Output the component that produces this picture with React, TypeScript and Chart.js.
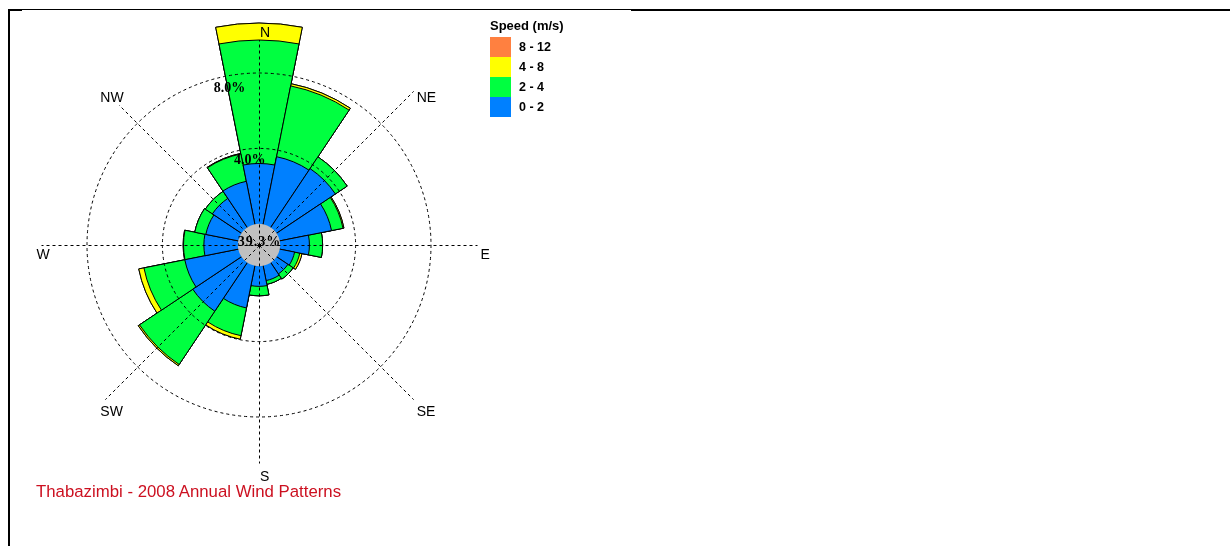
import React, { useEffect, useRef } from 'react';
import { Chart, registerables } from 'chart.js';

Chart.register(...registerables);

// ---- data (percent of time, per direction and speed class) ----
const directions = ['N', 'NNE', 'NE', 'ENE', 'E', 'ESE', 'SE', 'SSE', 'S', 'SSW', 'SW', 'WSW', 'W', 'WNW', 'NW', 'NNW'];
const speed0to2 = [3.2, 3.65, 3.75, 2.8, 1.55, 0.8, 0.72, 0.8, 1.07, 2.28, 3.1, 2.89, 1.8, 1.75, 1.85, 2.32];
const speed2to4 = [6.55, 3.83, 0.75, 0.62, 0.7, 0.28, 0.33, 0.2, 0.5, 1.5, 3.4, 2.21, 1.08, 0.6, 0.45, 1.48];
const speed4to8 = [0.9, 0.12, 0, 0.05, 0, 0.12, 0, 0, 0, 0.19, 0.08, 0.28, 0.02, 0, 0, 0.03];
const speed8to12 = [0, 0, 0, 0, 0, 0, 0, 0, 0, 0, 0, 0, 0, 0, 0, 0];
const calmPercent = 39.3;
const ringTicks = [4, 8];
const compassLabels = ['N', 'NE', 'E', 'SE', 'S', 'SW', 'W', 'NW'];
const speedBinLabels = ['0 - 2', '2 - 4', '4 - 8', '8 - 12'];
const legendTitle = 'Speed (m/s)';
const chartTitle = 'Thabazimbi - 2008 Annual Wind Patterns';

// ---- styles ----
const binColors = ['#0080FF', '#00FF40', '#FFFF00', '#FF8040'];
const CANVAS = 500;
const CALM_RADIUS_PX = 21.2;
const PX_PER_PERCENT = 18.85;
const SPOKE_PX = 218;

const bins = [speed0to2, speed2to4, speed4to8, speed8to12];
const cumulative = bins.map((_, b) =>
  directions.map((__, i) => bins.slice(0, b + 1).reduce((sum, arr) => sum + arr[i], 0))
);

const scaleMin = -CALM_RADIUS_PX / PX_PER_PERCENT;
const scaleMax = scaleMin + CANVAS / 2 / PX_PER_PERCENT;

const windRoseDecor = {
  id: 'windRoseDecor',
  afterDatasetsDraw(chart: any) {
    const s = chart.scales.r;
    const ctx = chart.ctx;
    const r0 = s.getDistanceFromCenterForValue(0);
    ctx.save();
    ctx.beginPath();
    ctx.arc(s.xCenter, s.yCenter, r0, 0, Math.PI * 2);
    ctx.fillStyle = '#C0C0C0';
    ctx.fill();
    ctx.restore();
  },
  afterDraw(chart: any) {
    const s = chart.scales.r;
    const ctx = chart.ctx;
    const half = Math.PI / directions.length;
    const cx = s.xCenter;
    const cy = s.yCenter;
    ctx.save();
    ctx.font = '14px "Liberation Sans", Arial, sans-serif';
    ctx.textAlign = 'left';
    ctx.textBaseline = 'alphabetic';
    const labelInfo = compassLabels.map((lab, k) => {
      const end = s.getPointPosition(k * 2, SPOKE_PX, half);
      const th = (k * 45 * Math.PI) / 180;
      const sn = Math.sin(th);
      const cs = Math.cos(th);
      const dx = sn > 0.1 ? 3.5 : sn < -0.1 ? -4.5 : 1;
      const dy = 14 - 4 * cs;
      const x = end.x + dx;
      const y = end.y + dy;
      const w = ctx.measureText(lab).width;
      const pad = 3;
      const box = { l: x - pad, r: x + w + pad, t: y - 10 - pad, b: y + pad };
      // where the spoke ray first enters the label box
      const ux = sn;
      const uy = -cs;
      let tEnter = -Infinity;
      let tExit = Infinity;
      const slab = (o: number, u: number, lo: number, hi: number) => {
        if (Math.abs(u) < 1e-9) {
          if (o < lo || o > hi) { tEnter = Infinity; }
          return;
        }
        let t1 = (lo - o) / u;
        let t2 = (hi - o) / u;
        if (t1 > t2) { const tmp = t1; t1 = t2; t2 = tmp; }
        tEnter = Math.max(tEnter, t1);
        tExit = Math.min(tExit, t2);
      };
      slab(cx + 0.5, ux, box.l, box.r);
      slab(cy + 0.5, uy, box.t, box.b);
      let len = SPOKE_PX;
      if (tEnter <= tExit && tEnter > 0 && tEnter < SPOKE_PX) len = tEnter;
      return { lab, x, y, len, k };
    });
    // spokes
    ctx.strokeStyle = '#000';
    ctx.lineWidth = 1;
    ctx.setLineDash([3, 3]);
    labelInfo.forEach((info) => {
      const end = s.getPointPosition(info.k * 2, info.len, half);
      ctx.beginPath();
      ctx.moveTo(cx + 0.5, cy + 0.5);
      ctx.lineTo(end.x + 0.5, end.y + 0.5);
      ctx.stroke();
    });
    ctx.setLineDash([]);
    // compass labels
    ctx.fillStyle = '#000';
    labelInfo.forEach((info) => ctx.fillText(info.lab, info.x, info.y));
    // ring labels
    ctx.font = 'bold 14px "Liberation Serif", "Times New Roman", serif';
    const extra = ((-15.4 + 180 / directions.length) * Math.PI) / 180;
    ringTicks.forEach((v) => {
      const p = s.getPointPosition(0, s.getDistanceFromCenterForValue(v) - 2, extra);
      ctx.fillText(`${v.toFixed(1)}%`, p.x, p.y + 10.5);
    });
    // calm label
    ctx.textAlign = 'center';
    (ctx as any).letterSpacing = '1px';
    ctx.fillText(`${calmPercent.toFixed(1)}%`, cx + 0.5, cy + 0.5);
    ctx.restore();
  },
};

export default function App() {
  const ref = useRef<HTMLCanvasElement>(null);

  useEffect(() => {
    const canvas = ref.current;
    if (!canvas) return;
    const chart = new Chart(canvas, {
      type: 'polarArea',
      data: {
        labels: directions,
        datasets: speedBinLabels.map((lab, b) => ({
          label: lab,
          data: cumulative[b],
          backgroundColor: binColors[b],
          borderColor: '#000',
          borderWidth: 1,
        })),
      },
      options: {
        responsive: false,
        animation: false,
        devicePixelRatio: 1,
        layout: { padding: 0 },
        plugins: { legend: { display: false }, tooltip: { enabled: false }, title: { display: false } },
        scales: {
          r: {
            min: scaleMin,
            max: scaleMax,
            beginAtZero: false,
            startAngle: -180 / directions.length,
            ticks: { display: false, stepSize: 4 },
            pointLabels: { display: false },
            angleLines: { display: false },
            grid: {
              z: 1,
              circular: true,
              lineWidth: 1,
              color: (c: any) => (c.tick && ringTicks.includes(c.tick.value) ? '#000' : 'rgba(0,0,0,0)'),
            },
            border: { dash: [3, 3] },
          },
        },
      },
      plugins: [windRoseDecor],
    } as any);
    return () => chart.destroy();
  }, []);

  const legendRows = speedBinLabels.map((lab, i) => ({ lab, color: binColors[i] })).reverse();

  return (
    <div style={{ position: 'absolute', left: 0, top: 0, width: 1230, height: 546, overflow: 'hidden', background: '#fff' }}>
      <div
        style={{
          position: 'absolute', left: 8, top: 9, width: 1222, height: 537, boxSizing: 'border-box',
          borderTop: '2px solid #000', borderLeft: '2px solid #000',
        }}
      />
      <div style={{ position: 'absolute', left: 22, top: 10, width: 609, height: 1, background: '#fff' }} />
      <canvas ref={ref} width={CANVAS} height={CANVAS} style={{ position: 'absolute', left: 9, top: -5 }} />
      <div
        style={{
          position: 'absolute', left: 490, top: 18.5, font: 'bold 13px "Liberation Sans", Arial, sans-serif',
          lineHeight: '13px', whiteSpace: 'nowrap', color: '#000',
        }}
      >
        {legendTitle}
      </div>
      {legendRows.map((row, i) => (
        <React.Fragment key={row.lab}>
          <div style={{ position: 'absolute', left: 490, top: 37 + 20 * i, width: 21, height: 20, background: row.color }} />
          <div
            style={{
              position: 'absolute', left: 519, top: 40.7 + 20 * i, font: 'bold 12.5px "Liberation Sans", Arial, sans-serif',
              lineHeight: '12px', whiteSpace: 'nowrap', color: '#000',
            }}
          >
            {row.lab}
          </div>
        </React.Fragment>
      ))}
      <div
        style={{
          position: 'absolute', left: 36, top: 484, font: '16.8px "Liberation Sans", Arial, sans-serif',
          lineHeight: '16px', whiteSpace: 'nowrap', color: '#CC1020',
        }}
      >
        {chartTitle}
      </div>
    </div>
  );
}
